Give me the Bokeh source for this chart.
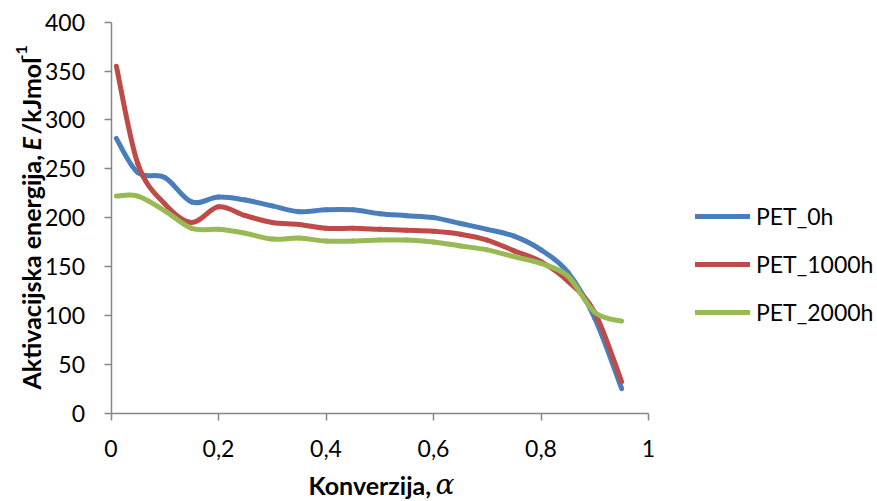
import numpy as np
from bokeh.plotting import figure
from bokeh.models import (Label, Legend, LegendItem, FixedTicker, ColumnDataSource,
                          LinearAxis, Range1d)
from bokeh.embed import file_html
from bokeh.resources import INLINE

# ---- data ----
alpha = [0.01, 0.05, 0.10, 0.15, 0.20, 0.25, 0.30, 0.35, 0.40, 0.45,
         0.50, 0.55, 0.60, 0.65, 0.70, 0.75, 0.80, 0.85, 0.90, 0.95]
pet_0h = [281, 246, 241, 216, 221, 218, 212, 206, 208, 208,
          204, 202, 200, 194, 188, 181, 167, 144, 97, 25]
pet_1000h = [355, 255, 214, 195, 211, 202, 195, 193, 189, 189,
             188, 187, 186, 183, 177, 166, 155, 135, 103, 32]
pet_2000h = [222, 222, 207, 189, 188, 184, 178, 179, 176, 176,
             177, 177, 175, 171, 167, 160, 153, 140, 103, 94]
series_names = ["PET_0h", "PET_1000h", "PET_2000h"]
series_colors = ["#4A7EBB", "#BE4B48", "#98B954"]
x_ticks = [0, 0.2, 0.4, 0.6, 0.8, 1.0]
x_tick_labels = ["0", "0,2", "0,4", "0,6", "0,8", "1"]
y_ticks = [0, 50, 100, 150, 200, 250, 300, 350, 400]


def smoothed_segments(xs, ys):
    """Excel-style smoothed line: cubic Bezier segments between the data points."""
    x = np.asarray(xs, float)
    y = np.asarray(ys, float)
    xp = np.concatenate([[x[0]], x, [x[-1]]])
    yp = np.concatenate([[y[0]], y, [y[-1]]])
    n = len(x)
    d = dict(x0=[], y0=[], x1=[], y1=[], cx0=[], cy0=[], cx1=[], cy1=[])
    for i in range(n - 1):
        p0x, p1x, p2x, p3x = xp[i], xp[i + 1], xp[i + 2], xp[i + 3]
        p0y, p1y, p2y, p3y = yp[i], yp[i + 1], yp[i + 2], yp[i + 3]
        d["x0"].append(p1x); d["y0"].append(p1y)
        d["x1"].append(p2x); d["y1"].append(p2y)
        d["cx0"].append(p1x + (p2x - p0x) / 6); d["cy0"].append(p1y + (p2y - p0y) / 6)
        d["cx1"].append(p2x - (p3x - p1x) / 6); d["cy1"].append(p2y - (p3y - p1y) / 6)
    return ColumnDataSource(d)


# ---- layout (pixels) ----
W, H = 877, 501
PLOT_L, PLOT_R = 110.5, 648.0      # pixel columns of x = 0 and x = 1
PLOT_T, PLOT_B = 21.7, 412.5       # pixel rows of y = 400 and y = 0
X0, X1 = 0.0, 1.0
Y0, Y1 = 0.0, 400.0
sx = (PLOT_R - PLOT_L) / (X1 - X0)
sy = (PLOT_B - PLOT_T) / (Y1 - Y0)
x_range = Range1d(X0 - PLOT_L / sx, X1 + (W - PLOT_R) / sx)
y_range = Range1d(Y0 - (H - PLOT_B) / sy, Y1 + PLOT_T / sy)

FONT = "Lato"
AXIS_GRAY = "#868686"

p = figure(width=W, height=H, output_backend="svg", toolbar_location=None,
           x_range=x_range, y_range=y_range,
           x_axis_location=None, y_axis_location=None,
           min_border=0)
p.outline_line_color = None
p.xgrid.visible = False
p.ygrid.visible = False
p.background_fill_color = "white"
p.border_fill_color = "white"

xaxis = LinearAxis(fixed_location=Y0, bounds=(X0, X1),
                   ticker=FixedTicker(ticks=x_ticks),
                   major_label_overrides={t: l for t, l in zip(x_ticks, x_tick_labels)},
                   major_label_standoff=20)
yaxis = LinearAxis(fixed_location=X0, bounds=(Y0, Y1),
                   ticker=FixedTicker(ticks=y_ticks),
                   major_label_standoff=19)
for ax in (xaxis, yaxis):
    ax.axis_line_color = AXIS_GRAY
    ax.axis_line_width = 1.5
    ax.major_tick_line_color = AXIS_GRAY
    ax.major_tick_line_width = 1.5
    ax.major_tick_in = 0
    ax.major_tick_out = 7
    ax.minor_tick_line_color = None
    ax.major_label_text_font = FONT
    ax.major_label_text_font_size = "23px"
    ax.major_label_text_color = "black"
p.add_layout(xaxis, "below")
p.add_layout(yaxis, "left")

items = []
for name, color, vals in zip(series_names, series_colors, [pet_0h, pet_1000h, pet_2000h]):
    src = smoothed_segments(alpha, vals)
    r = p.bezier(x0="x0", y0="y0", x1="x1", y1="y1", cx0="cx0", cy0="cy0",
                 cx1="cx1", cy1="cy1", source=src, line_color=color,
                 line_width=5, line_cap="round")
    items.append(LegendItem(label=name, renderers=[r]))

legend = Legend(items=items, location=(695, 175), orientation="vertical",
                glyph_width=55, glyph_height=24, label_height=24, spacing=20,
                label_standoff=6, padding=0, margin=0,
                label_text_font=FONT, label_text_font_size="23px",
                label_text_color="black",
                border_line_color=None, background_fill_alpha=0)
p.add_layout(legend, "center")


def title_piece(text, x, y, size, style="bold", font=FONT, angle=0.0):
    p.add_layout(Label(x=x, y=y, x_units="screen", y_units="screen", angle=angle,
                       text=text, text_font=font, text_font_style=style,
                       text_font_size=size, text_color="black",
                       text_baseline="middle", text_align="left"))


# y axis title (rotated, reading upward); screen units from bottom-left
ymid = 30
title_piece("Aktivacijska energija,", ymid, 112, "25px", angle=np.pi / 2)
title_piece("E", ymid, 351, "25px", style="bold italic", angle=np.pi / 2)
title_piece("/kJmol", ymid, 367, "25px", angle=np.pi / 2)
title_piece("-1", ymid - 9, 441, "16px", angle=np.pi / 2)

# x axis title
title_piece("Konverzija,", 308, 17, "25px")
title_piece("α", 435, 17, "28px", style="italic", font="DejaVu Serif")

open("out.html", "w").write(file_html(p, INLINE))
